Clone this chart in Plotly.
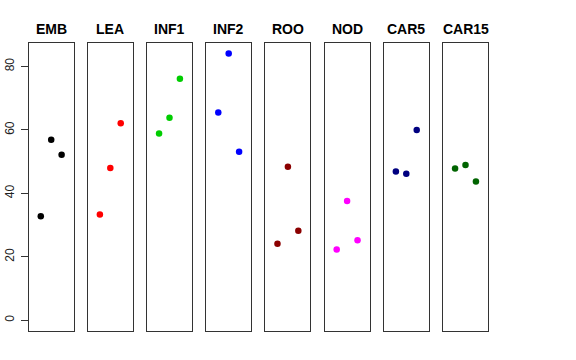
import plotly.graph_objects as go

categories = ["EMB", "LEA", "INF1", "INF2", "ROO", "NOD", "CAR5", "CAR15"]
values = {
    "EMB": [32.8, 56.9, 52.2],
    "LEA": [33.3, 48.0, 62.1],
    "INF1": [58.9, 63.8, 76.1],
    "INF2": [65.5, 84.1, 53.1],
    "ROO": [24.1, 48.4, 28.2],
    "NOD": [22.3, 37.6, 25.2],
    "CAR5": [46.9, 46.2, 60.0],
    "CAR15": [47.8, 48.9, 43.7],
}
colors = ["#000000", "#FF0000", "#00CD00", "#0000FF", "#8B0000", "#FF00FF", "#000080", "#006400"]
positions = [1, 2, 3]
y_ticks = [0, 20, 40, 60, 80]

W, H = 576, 360
left_px = [28.7, 87.8, 147.0, 206.2, 265.4, 324.6, 383.8, 443.0]
panel_w = 45.0
top_px, bot_px = 42.7, 331.0

fig = go.Figure()
layout = dict(
    width=W, height=H,
    margin=dict(l=0, r=0, t=0, b=0, autoexpand=False),
    plot_bgcolor="white", paper_bgcolor="white",
    showlegend=False,
    font=dict(family="Liberation Sans, Arial, sans-serif", color="black"),
)
annotations = []
for i, cat in enumerate(categories):
    ax = "" if i == 0 else str(i + 1)
    x0 = left_px[i] / W
    x1 = (left_px[i] + panel_w) / W
    fig.add_trace(go.Scatter(
        x=positions, y=values[cat], mode="markers",
        marker=dict(color=colors[i], size=6.5, line=dict(width=0)),
        xaxis="x" + ax, yaxis="y" + ax, hoverinfo="skip",
    ))
    layout["xaxis" + ax] = dict(
        domain=[x0, x1], range=[-0.16, 4.16], anchor="y" + ax, automargin=False,
        showgrid=False, zeroline=False, showticklabels=False, ticks="",
        showline=True, mirror=True, linecolor="#333333", linewidth=1,
    )
    yax = dict(
        domain=[1 - bot_px / H, 1 - top_px / H], range=[-3.4, 87.5],
        anchor="x" + ax, automargin=False,
        showgrid=False, zeroline=False,
        showline=True, mirror=True, linecolor="#333333", linewidth=1,
    )
    if i == 0:
        yax.update(tickvals=y_ticks, ticks="outside", ticklen=7, tickcolor="#333333",
                   tickangle=-90, tickfont=dict(size=12, color="#222222"),
                   ticklabelstandoff=2)
    else:
        yax.update(showticklabels=False, ticks="")
    layout["yaxis" + ax] = yax
    annotations.append(dict(
        x=(x0 + x1) / 2, y=1 - 29 / H, xref="paper", yref="paper",
        text="<b>%s</b>" % cat, showarrow=False,
        font=dict(size=14, color="black"), xanchor="center", yanchor="middle",
    ))
layout["annotations"] = annotations
fig.update_layout(**layout)
fig.write_html("out.html", config={"displayModeBar": False},
               post_script="document.body.style.margin='0';")
